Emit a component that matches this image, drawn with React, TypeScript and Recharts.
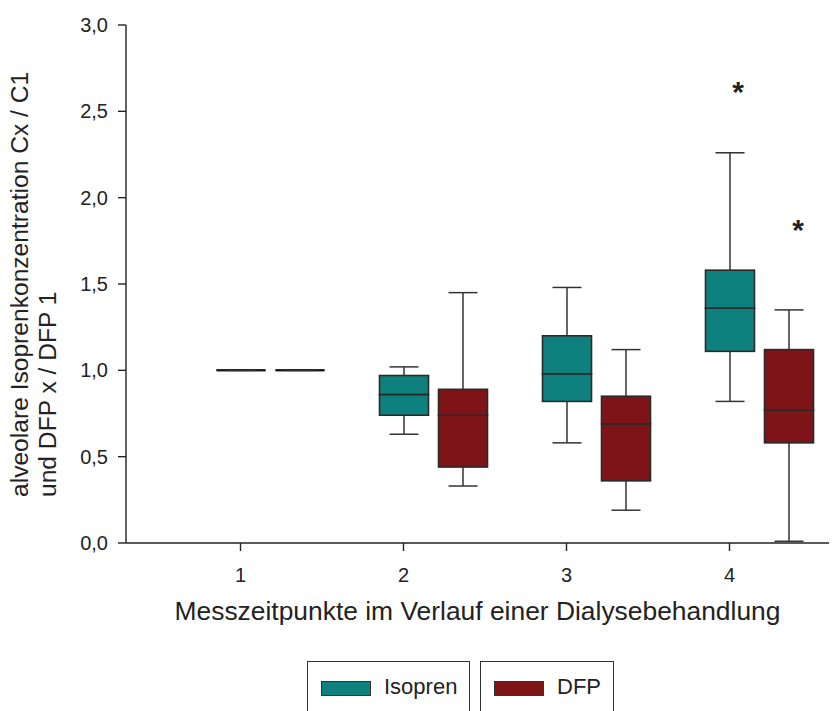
import React from 'react';
import { ComposedChart, Bar, XAxis, YAxis, Label } from 'recharts';

const categories = ['1', '2', '3', '4'];

// Isopren boxes
const isoMin = [1.0, 0.63, 0.58, 0.82];
const isoQ1 = [1.0, 0.74, 0.82, 1.11];
const isoMedian = [1.0, 0.86, 0.98, 1.36];
const isoQ3 = [1.0, 0.97, 1.2, 1.58];
const isoMax = [1.0, 1.02, 1.48, 2.26];
const isoStar = [null, null, null, 2.64];

// DFP boxes
const dfpMin = [1.0, 0.33, 0.19, 0.01];
const dfpQ1 = [1.0, 0.44, 0.36, 0.58];
const dfpMedian = [1.0, 0.74, 0.69, 0.77];
const dfpQ3 = [1.0, 0.89, 0.85, 1.12];
const dfpMax = [1.0, 1.45, 1.12, 1.35];
const dfpStar = [null, null, null, 1.84];

const yTicks = [0, 0.5, 1, 1.5, 2, 2.5, 3];

const legendItems = [
  { name: 'Isopren', color: '#0e807d' },
  { name: 'DFP', color: '#7e1418' },
];

const FONT = '"Liberation Sans", Arial, Helvetica, sans-serif';
const INK = '#222';
const BOX_W = 49;
const CAP_W = 29;

const gap = (hi: number | null, lo: number) => (hi == null ? 0 : hi - lo);

const data = categories.map((name, i) => ({
  name,
  isoBase: isoMin[i],
  isoLowW: isoQ1[i] - isoMin[i],
  isoLowBox: isoMedian[i] - isoQ1[i],
  isoHighBox: isoQ3[i] - isoMedian[i],
  isoHighW: isoMax[i] - isoQ3[i],
  isoStarGap: gap(isoStar[i], isoMax[i]),
  dfpBase: dfpMin[i],
  dfpLowW: dfpQ1[i] - dfpMin[i],
  dfpLowBox: dfpMedian[i] - dfpQ1[i],
  dfpHighBox: dfpQ3[i] - dfpMedian[i],
  dfpHighW: dfpMax[i] - dfpQ3[i],
  dfpStarGap: gap(dfpStar[i], dfpMax[i]),
}));

const span = (p: any) => {
  const top = Math.min(p.y, p.y + p.height);
  const bottom = Math.max(p.y, p.y + p.height);
  return { top, bottom, cx: p.x + p.width / 2 };
};

const whisker = (capAt: 'top' | 'bottom') => (p: any) => {
  const { top, bottom, cx } = span(p);
  const capY = capAt === 'top' ? top : bottom;
  return (
    <g stroke="#333" strokeWidth={1.5}>
      <line x1={cx} x2={cx} y1={top} y2={bottom} />
      <line x1={cx - CAP_W / 2} x2={cx + CAP_W / 2} y1={capY} y2={capY} />
    </g>
  );
};

const box = (fill: string) => (p: any) => {
  const { top, bottom, cx } = span(p);
  if (bottom - top < 0.5) {
    return <line x1={cx - BOX_W / 2} x2={cx + BOX_W / 2} y1={top} y2={top} stroke="#1a1a1a" strokeWidth={2} />;
  }
  return (
    <rect x={cx - BOX_W / 2} y={top} width={BOX_W} height={bottom - top} fill={fill} stroke="#2a2a2a" strokeWidth={1.6} />
  );
};

const star = (dx: number) => (p: any) => {
  const { top, bottom, cx } = span(p);
  if (!(bottom - top > 0)) return <g />;
  return (
    <text x={cx + dx} y={top + 15} textAnchor="middle" fontFamily={FONT} fontWeight="bold" fontSize={30} fill={INK}>
      *
    </text>
  );
};

const fmt = (v: number) => v.toFixed(1).replace('.', ',');

const YLabel = () => (
  <text transform="translate(28,497) rotate(-90)" fontFamily={FONT} fontSize={24.6} fill={INK}>
    <tspan x={0} y={0}>alveolare Isoprenkonzentration Cx / C1</tspan>
    <tspan x={0} y={28}>und DFP x / DFP 1</tspan>
  </text>
);

export default function App() {
  const [iso, dfp] = legendItems;
  return (
    <div style={{ position: 'absolute', left: 0, top: 0, width: 832, height: 711, overflow: 'hidden', background: '#fff', fontFamily: FONT }}>
      <ComposedChart width={832} height={711} data={data} margin={{ top: 25, right: 3, bottom: 88, left: 0 }} barSize={40} barGap={19}>
        <XAxis
          dataKey="name"
          height={80}
          padding={{ left: 33, right: 18 }}
          tickSize={8}
          tickMargin={17}
          tick={{ fontSize: 20, fill: INK, fontFamily: FONT }}
          axisLine={{ stroke: INK, strokeWidth: 1.4 }}
          tickLine={{ stroke: INK, strokeWidth: 1.4 }}
        >
          <Label
            value="Messzeitpunkte im Verlauf einer Dialysebehandlung"
            position="insideBottom"
            offset={3}
            style={{ fontSize: 26.4, fill: INK, fontFamily: FONT }}
          />
        </XAxis>
        <XAxis xAxisId="top" dataKey="name" orientation="top" height={0} tick={false} tickLine={false} axisLine={{ stroke: INK, strokeWidth: 1.4 }} />
        <YAxis
          width={126}
          domain={[0, 3]}
          ticks={yTicks}
          tickFormatter={fmt}
          tickSize={8}
          tickMargin={10}
          tick={{ fontSize: 20, fill: INK, fontFamily: FONT }}
          axisLine={{ stroke: INK, strokeWidth: 1.4 }}
          tickLine={{ stroke: INK, strokeWidth: 1.4 }}
        >
          <Label content={YLabel} />
        </YAxis>
        <YAxis yAxisId="right" orientation="right" width={0} domain={[0, 3]} tick={false} tickLine={false} axisLine={{ stroke: INK, strokeWidth: 1.4 }} />

        <Bar dataKey="pad" stackId="pad" fill="transparent" isAnimationActive={false} />

        <Bar dataKey="isoBase" stackId="iso" fill="transparent" isAnimationActive={false} />
        <Bar dataKey="isoLowW" stackId="iso" shape={whisker('bottom')} isAnimationActive={false} />
        <Bar dataKey="isoLowBox" stackId="iso" shape={box(iso.color)} isAnimationActive={false} />
        <Bar dataKey="isoHighBox" stackId="iso" shape={box(iso.color)} isAnimationActive={false} />
        <Bar dataKey="isoHighW" stackId="iso" shape={whisker('top')} isAnimationActive={false} />
        <Bar dataKey="isoStarGap" stackId="iso" shape={star(8)} isAnimationActive={false} />

        <Bar dataKey="dfpBase" stackId="dfp" fill="transparent" isAnimationActive={false} />
        <Bar dataKey="dfpLowW" stackId="dfp" shape={whisker('bottom')} isAnimationActive={false} />
        <Bar dataKey="dfpLowBox" stackId="dfp" shape={box(dfp.color)} isAnimationActive={false} />
        <Bar dataKey="dfpHighBox" stackId="dfp" shape={box(dfp.color)} isAnimationActive={false} />
        <Bar dataKey="dfpHighW" stackId="dfp" shape={whisker('top')} isAnimationActive={false} />
        <Bar dataKey="dfpStarGap" stackId="dfp" shape={star(9)} isAnimationActive={false} />
      </ComposedChart>

      {legendItems.map((item, i) => (
        <div
          key={item.name}
          style={{
            position: 'absolute',
            left: i === 0 ? 307 : 480,
            top: 661,
            width: i === 0 ? 163 : 134,
            height: 80,
            border: '1.5px solid #333',
            boxSizing: 'border-box',
          }}
        >
          <div style={{ position: 'absolute', left: 13, top: 19, width: 50, height: 15, background: item.color, border: '1px solid #333', boxSizing: 'border-box' }} />
          <div style={{ position: 'absolute', left: 76, top: 12, fontSize: 22, lineHeight: '26px', color: INK }}>{item.name}</div>
        </div>
      ))}
    </div>
  );
}
